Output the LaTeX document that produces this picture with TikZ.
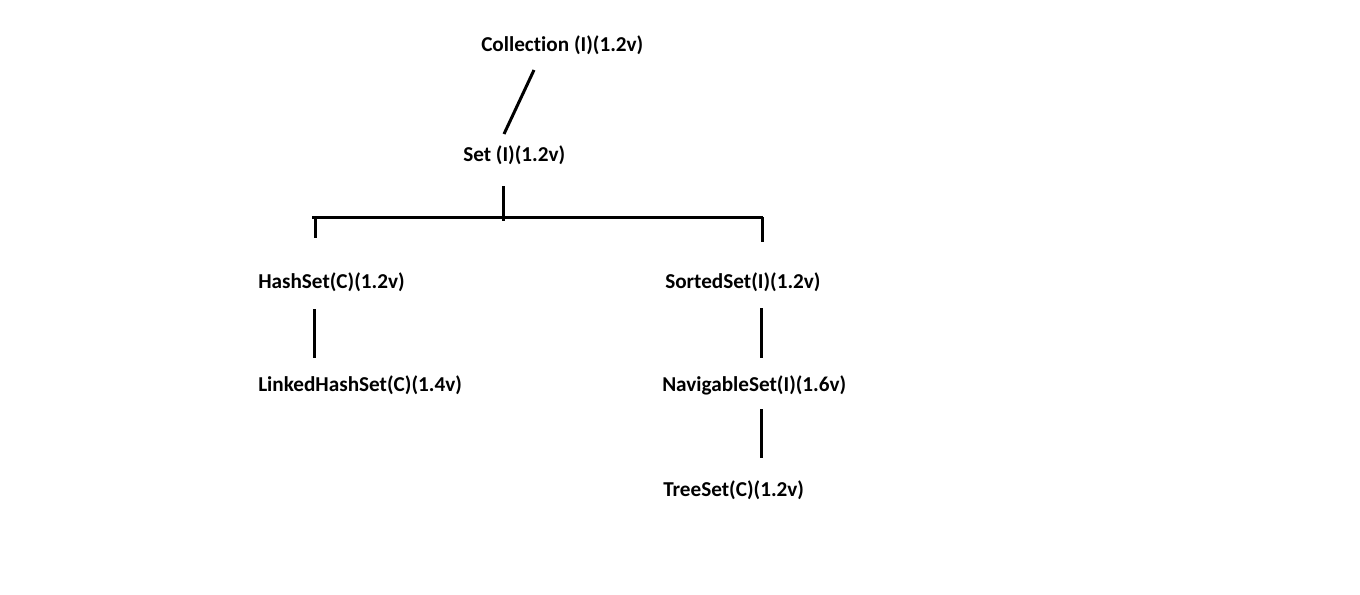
\documentclass[tikz,border=0pt]{standalone}
\usepackage{fontspec}
\setmainfont{Carlito}[Ligatures=NoCommon]
\begin{document}
\begin{tikzpicture}[x=0.75pt,y=-0.75pt,
  lbl/.style={anchor=base west,inner sep=0pt,font=\fontsize{15.9}{18}\selectfont\bfseries},
  link/.style={line width=2.25pt}]
\useasboundingbox[fill=white] (0,0) rectangle (1360,594);
% class / interface labels
\node[lbl] (coll) at (481,51) {Collection (I)(1.2v)};
\node[lbl] (set)  at (463,161) {Set (I)(1.2v)};
\node[lbl] (hash) at (258,288) {HashSet(C)(1.2v)};
\node[lbl] (sorted) at (665,288) {SortedSet(I)(1.2v)};
\node[lbl] (lhash) at (258,391) {LinkedHashSet(C)(1.4v)};
\node[lbl] (nav) at (662,391) {NavigableSet(I)(1.6v)};
\node[lbl] (tree) at (663,496) {TreeSet(C)(1.2v)};
% connector anchor points
\coordinate (c1) at (534,70);
\coordinate (c2) at (504,134);
\coordinate (bt) at (503,186);
\coordinate (bm) at (503,221);
\coordinate (bl) at (312,217);
\coordinate (br) at (763,217);
\coordinate (bld) at (315,238);
\coordinate (brd) at (762,242);
% Collection -> Set
\draw[link] (c1) -- (c2);
% Set -> bracket
\draw[link] (bt) -- (bm);
\draw[link] (bl) -- (br);
\draw[link] (315,217) -- (bld);
\draw[link] (762,217) -- (brd);
% vertical links
\draw[link] (314,309) -- (314,358);
\draw[link] (761,308) -- (761,358);
\draw[link] (761,409) -- (761,458);
\end{tikzpicture}
\end{document}
